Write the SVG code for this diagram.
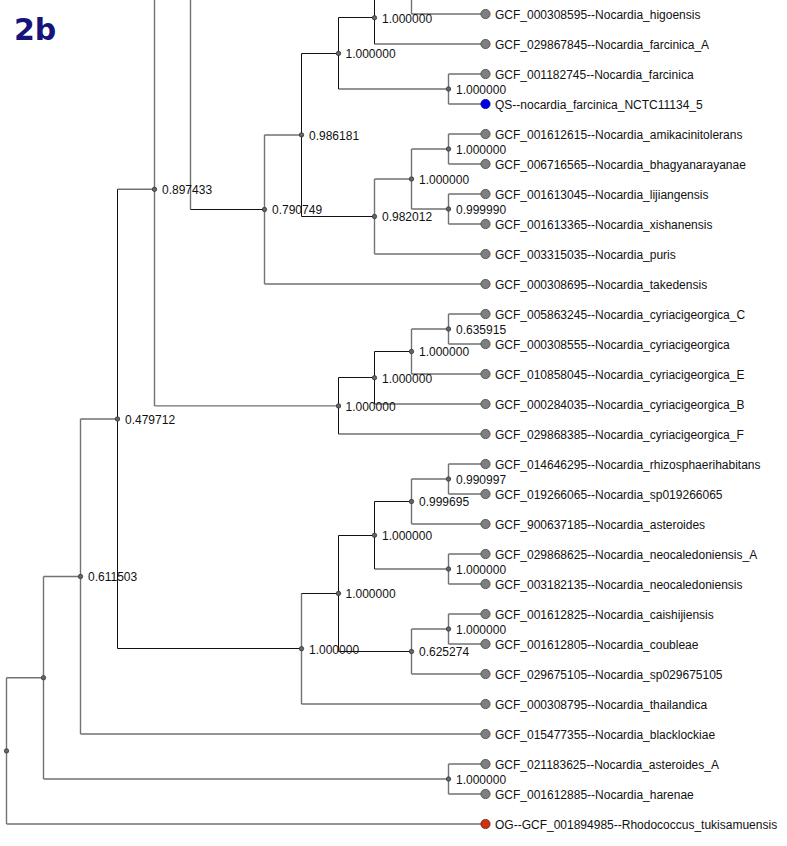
<svg xmlns="http://www.w3.org/2000/svg" width="787" height="846" viewBox="0 0 787 846">
<style>
.g{fill:none;stroke:#727272;stroke-width:1.4}
.k{fill:none;stroke:#111;stroke-width:1}
.n{fill:#666;stroke:#333;stroke-width:0.8}
.lf{fill:#7f7f7f;stroke:#505050;stroke-width:0.9}
.qs{fill:#0000e6;stroke:#000080;stroke-width:0.8}
.og{fill:#cc3310;stroke:#7a1a00;stroke-width:0.8}
text{font-family:"Liberation Sans",Arial,sans-serif;font-size:12px;fill:#111}
.title{font-family:"DejaVu Sans",sans-serif;font-size:30px;font-weight:bold;fill:#14147a}
</style>
<rect width="787" height="846" fill="#fff"/>
<text class="title" x="14" y="40">2b</text>
<g id="connectors">
<path class="g" d="M411.5 0V14M411.5 14H485.5M374.5 44H485.5M338.5 89H448.5M448.5 74V104M448.5 74H485.5M448.5 104H485.5M264.5 135H301.5M264.5 135V284M264.5 284H485.5M374.5 179V254M374.5 179H411.5M374.5 254H485.5M411.5 149V209M411.5 149H448.5M411.5 209H448.5M448.5 134V164M448.5 134H485.5M448.5 164H485.5M448.5 194V224M448.5 194H485.5M448.5 224H485.5M190.5 0V209.5M154.5 0V405.9M154.5 405.9H338.5M117.5 189.3H154.5"/>
<path class="g" d="M338.5 434H485.5M374.5 404H485.5M411.5 329V374M411.5 329H448.5M411.5 374H485.5M448.5 314V344M448.5 314H485.5M448.5 344H485.5"/>
<path class="g" d="M301.5 593.5V704M301.5 704H485.5M411.5 479V524M411.5 479H448.5M411.5 524H485.5M448.5 464V494M448.5 464H485.5M448.5 494H485.5M374.5 569H448.5M448.5 554V584M448.5 554H485.5M448.5 584H485.5M411.5 629V674M411.5 629H448.5M411.5 674H485.5M448.5 614V644M448.5 614H485.5M448.5 644H485.5M80.5 419H117.5M80.5 419V734M80.5 734H485.5M43.5 576.5H80.5M43.5 576.5V779M43.5 779H448.5M448.5 764V794M448.5 764H485.5M448.5 794H485.5M6.5 677.75H43.5M6.5 677.75V824M6.5 824H485.5"/>
<path class="k" d="M338.5 17.5H374.5M374.5 0V44M338.5 17.5V89M301.5 53.5H338.5M301.5 53.5V216.5M301.5 216.5H374.5M190.5 209.5H264.5M338.5 377.5V434M338.5 377.5H374.5M374.5 351.5V404M374.5 351.5H411.5M117.5 189.3V648.5M117.5 648.5H301.5M301.5 593.5H338.5M338.5 535.5V651.5M338.5 535.5H374.5M374.5 501.5V569M374.5 501.5H411.5M338.5 651.5H411.5"/>
</g>
<g id="inner-nodes">
<g id="n_top375"><circle class="n" cx="374.5" cy="17.75" r="2.2"/><text x="382" y="23">1.000000</text></g>
<g id="n_farc338"><circle class="n" cx="338.5" cy="53.4" r="2.2"/><text x="345.5" y="58">1.000000</text></g>
<g id="n_farc449"><circle class="n" cx="448.5" cy="89" r="2.2"/><text x="456" y="93.5">1.000000</text></g>
<g id="n_0986181"><circle class="n" cx="301.5" cy="134.9" r="2.2"/><text x="309" y="139.5">0.986181</text></g>
<g id="n_amik449"><circle class="n" cx="448.5" cy="149" r="2.2"/><text x="456" y="153.5">1.000000</text></g>
<g id="n_412a"><circle class="n" cx="411.5" cy="179" r="2.2"/><text x="419" y="183.5">1.000000</text></g>
<g id="n_0999990"><circle class="n" cx="448.5" cy="209" r="2.2"/><text x="456" y="213.5">0.999990</text></g>
<g id="n_0982012"><circle class="n" cx="374.5" cy="216.5" r="2.2"/><text x="382" y="221">0.982012</text></g>
<g id="n_0790749"><circle class="n" cx="264.5" cy="209.5" r="2.2"/><text x="272" y="214">0.790749</text></g>
<g id="n_0897433"><circle class="n" cx="154.5" cy="189.3" r="2.2"/><text x="162" y="194">0.897433</text></g>
<g id="n_0635915"><circle class="n" cx="448.5" cy="329" r="2.2"/><text x="456" y="333.5">0.635915</text></g>
<g id="n_cyr412"><circle class="n" cx="411.5" cy="351.5" r="2.2"/><text x="419" y="356">1.000000</text></g>
<g id="n_cyr375"><circle class="n" cx="374.5" cy="377.75" r="2.2"/><text x="382" y="382.5">1.000000</text></g>
<g id="n_cyr338"><circle class="n" cx="338.5" cy="405.9" r="2.2"/><text x="345.5" y="410.5">1.000000</text></g>
<g id="n_0479712"><circle class="n" cx="117.5" cy="419" r="2.2"/><text x="125" y="423.5">0.479712</text></g>
<g id="n_0990997"><circle class="n" cx="448.5" cy="479" r="2.2"/><text x="456" y="483.5">0.990997</text></g>
<g id="n_0999695"><circle class="n" cx="411.5" cy="501.5" r="2.2"/><text x="419" y="506">0.999695</text></g>
<g id="n_ast375"><circle class="n" cx="374.5" cy="535.25" r="2.2"/><text x="382" y="540">1.000000</text></g>
<g id="n_neo449"><circle class="n" cx="448.5" cy="569" r="2.2"/><text x="456" y="573.5">1.000000</text></g>
<g id="n_ast338"><circle class="n" cx="338.5" cy="593.4" r="2.2"/><text x="345.5" y="598">1.000000</text></g>
<g id="n_cai449"><circle class="n" cx="448.5" cy="629" r="2.2"/><text x="456" y="633.5">1.000000</text></g>
<g id="n_0625274"><circle class="n" cx="411.5" cy="651.5" r="2.2"/><text x="419" y="656">0.625274</text></g>
<g id="n_ast301"><circle class="n" cx="301.5" cy="648.7" r="2.2"/><text x="309" y="653.5">1.000000</text></g>
<g id="n_0611503"><circle class="n" cx="80.5" cy="576.5" r="2.2"/><text x="88" y="581">0.611503</text></g>
<g id="n_har449"><circle class="n" cx="448.5" cy="779" r="2.2"/><text x="456" y="783.5">1.000000</text></g>
<g id="n_43"><circle class="n" cx="43.5" cy="677.75" r="2.2"/></g>
<g id="n_root"><circle class="n" cx="6.5" cy="750.9" r="2.2"/></g>
</g>
<g id="leaves">
<g id="l1"><circle class="lf" cx="485.5" cy="14" r="4.6"/><text x="495" y="18.8">GCF_000308595--Nocardia_higoensis</text></g>
<g id="l2"><circle class="lf" cx="485.5" cy="44" r="4.6"/><text x="495" y="48.8">GCF_029867845--Nocardia_farcinica_A</text></g>
<g id="l3"><circle class="lf" cx="485.5" cy="74" r="4.6"/><text x="495" y="78.8">GCF_001182745--Nocardia_farcinica</text></g>
<g id="l4"><circle class="qs" cx="485.5" cy="104" r="4.6"/><text x="495" y="108.8">QS--nocardia_farcinica_NCTC11134_5</text></g>
<g id="l5"><circle class="lf" cx="485.5" cy="134" r="4.6"/><text x="495" y="138.8">GCF_001612615--Nocardia_amikacinitolerans</text></g>
<g id="l6"><circle class="lf" cx="485.5" cy="164" r="4.6"/><text x="495" y="168.8">GCF_006716565--Nocardia_bhagyanarayanae</text></g>
<g id="l7"><circle class="lf" cx="485.5" cy="194" r="4.6"/><text x="495" y="198.8">GCF_001613045--Nocardia_lijiangensis</text></g>
<g id="l8"><circle class="lf" cx="485.5" cy="224" r="4.6"/><text x="495" y="228.8">GCF_001613365--Nocardia_xishanensis</text></g>
<g id="l9"><circle class="lf" cx="485.5" cy="254" r="4.6"/><text x="495" y="258.8">GCF_003315035--Nocardia_puris</text></g>
<g id="l10"><circle class="lf" cx="485.5" cy="284" r="4.6"/><text x="495" y="288.8">GCF_000308695--Nocardia_takedensis</text></g>
<g id="l11"><circle class="lf" cx="485.5" cy="314" r="4.6"/><text x="495" y="318.8">GCF_005863245--Nocardia_cyriacigeorgica_C</text></g>
<g id="l12"><circle class="lf" cx="485.5" cy="344" r="4.6"/><text x="495" y="348.8">GCF_000308555--Nocardia_cyriacigeorgica</text></g>
<g id="l13"><circle class="lf" cx="485.5" cy="374" r="4.6"/><text x="495" y="378.8">GCF_010858045--Nocardia_cyriacigeorgica_E</text></g>
<g id="l14"><circle class="lf" cx="485.5" cy="404" r="4.6"/><text x="495" y="408.8">GCF_000284035--Nocardia_cyriacigeorgica_B</text></g>
<g id="l15"><circle class="lf" cx="485.5" cy="434" r="4.6"/><text x="495" y="438.8">GCF_029868385--Nocardia_cyriacigeorgica_F</text></g>
<g id="l16"><circle class="lf" cx="485.5" cy="464" r="4.6"/><text x="495" y="468.8">GCF_014646295--Nocardia_rhizosphaerihabitans</text></g>
<g id="l17"><circle class="lf" cx="485.5" cy="494" r="4.6"/><text x="495" y="498.8">GCF_019266065--Nocardia_sp019266065</text></g>
<g id="l18"><circle class="lf" cx="485.5" cy="524" r="4.6"/><text x="495" y="528.8">GCF_900637185--Nocardia_asteroides</text></g>
<g id="l19"><circle class="lf" cx="485.5" cy="554" r="4.6"/><text x="495" y="558.8">GCF_029868625--Nocardia_neocaledoniensis_A</text></g>
<g id="l20"><circle class="lf" cx="485.5" cy="584" r="4.6"/><text x="495" y="588.8">GCF_003182135--Nocardia_neocaledoniensis</text></g>
<g id="l21"><circle class="lf" cx="485.5" cy="614" r="4.6"/><text x="495" y="618.8">GCF_001612825--Nocardia_caishijiensis</text></g>
<g id="l22"><circle class="lf" cx="485.5" cy="644" r="4.6"/><text x="495" y="648.8">GCF_001612805--Nocardia_coubleae</text></g>
<g id="l23"><circle class="lf" cx="485.5" cy="674" r="4.6"/><text x="495" y="678.8">GCF_029675105--Nocardia_sp029675105</text></g>
<g id="l24"><circle class="lf" cx="485.5" cy="704" r="4.6"/><text x="495" y="708.8">GCF_000308795--Nocardia_thailandica</text></g>
<g id="l25"><circle class="lf" cx="485.5" cy="734" r="4.6"/><text x="495" y="738.8">GCF_015477355--Nocardia_blacklockiae</text></g>
<g id="l26"><circle class="lf" cx="485.5" cy="764" r="4.6"/><text x="495" y="768.8">GCF_021183625--Nocardia_asteroides_A</text></g>
<g id="l27"><circle class="lf" cx="485.5" cy="794" r="4.6"/><text x="495" y="798.8">GCF_001612885--Nocardia_harenae</text></g>
<g id="l28"><circle class="og" cx="485.5" cy="824" r="4.6"/><text x="495" y="828.8">OG--GCF_001894985--Rhodococcus_tukisamuensis</text></g>
</g>
</svg>
